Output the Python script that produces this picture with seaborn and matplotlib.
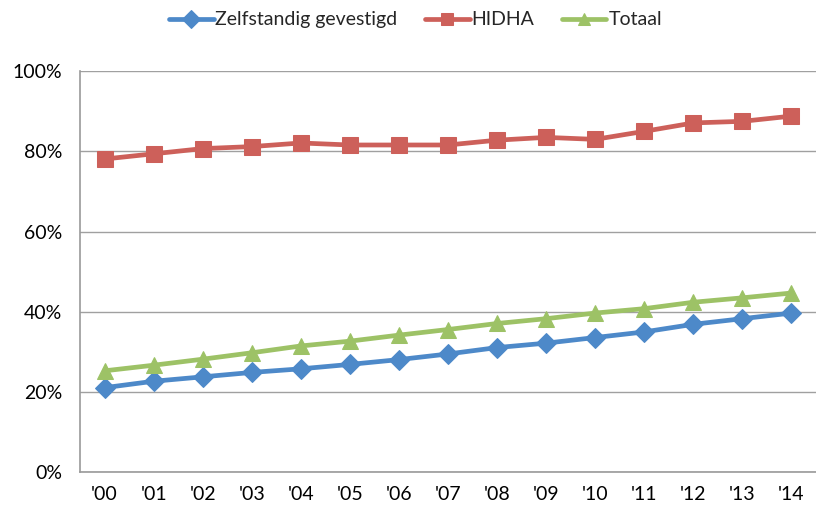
import matplotlib
matplotlib.use("Agg")
import matplotlib.pyplot as plt
import seaborn as sns
import pandas as pd
import numpy as np
from matplotlib.ticker import FixedLocator, PercentFormatter

years = ["'00", "'01", "'02", "'03", "'04", "'05", "'06", "'07", "'08", "'09", "'10", "'11", "'12", "'13", "'14"]
zelfstandig = [21.1, 22.7, 23.8, 24.9, 25.8, 26.9, 28.1, 29.5, 31.1, 32.2, 33.6, 35.0, 36.9, 38.3, 39.7]
hidha = [78.1, 79.4, 80.7, 81.2, 82.1, 81.6, 81.6, 81.6, 82.8, 83.5, 83.0, 85.0, 87.1, 87.5, 88.8]
totaal = [25.3, 26.7, 28.2, 29.8, 31.5, 32.7, 34.2, 35.6, 37.1, 38.3, 39.7, 40.8, 42.4, 43.5, 44.7]
series_names = ["Zelfstandig gevestigd", "HIDHA", "Totaal"]

sns.set_theme(style="white")
plt.rcParams['font.family'] = ['Lato', 'DejaVu Sans']

rows = []
for name, vals in zip(series_names, [zelfstandig, hidha, totaal]):
    for i, v in enumerate(vals):
        rows.append({"pos": i, "value": v, "serie": name})
df = pd.DataFrame(rows)

colors = {"Zelfstandig gevestigd": "#4D89C9", "HIDHA": "#CD605A", "Totaal": "#9DC266"}
markers = {"Zelfstandig gevestigd": "D", "HIDHA": "s", "Totaal": "^"}
msize = {"Zelfstandig gevestigd": 10, "HIDHA": 11.5, "Totaal": 12}

fig = plt.figure(figsize=(8.16, 5.11), dpi=100)
ax = fig.add_axes([0.098, 0.0757, 0.902, 0.785])

for name in series_names:
    sub = df[df["serie"] == name]
    sns.lineplot(data=sub, x="pos", y="value", ax=ax, color=colors[name],
                 marker=markers[name], markersize=msize[name], linewidth=3.4,
                 markeredgecolor=colors[name], label=name, zorder=3, legend=False)

ax.set_xlim(-0.5, 14.5)
ax.set_ylim(0, 100)
ax.set_xlabel("")
ax.set_ylabel("")
ax.set_xticks(range(len(years)))
ax.set_xticklabels(years, fontsize=14)
ax.xaxis.set_minor_locator(FixedLocator(np.arange(-0.5, 15, 1)))
ax.tick_params(axis='x', which='major', length=0, pad=10)
ax.tick_params(axis='x', which='minor', length=6, color="#9a9a9a", width=1, direction='out')
ax.set_yticks([0, 20, 40, 60, 80, 100])
ax.yaxis.set_major_formatter(PercentFormatter(decimals=0))
ax.tick_params(axis='y', which='major', length=7, color="#9a9a9a", width=1, labelsize=14, pad=6, direction='out')
ax.tick_params(axis='both', labelcolor="black")
ax.grid(axis='y', color="#a0a0a0", linewidth=1)
ax.set_axisbelow(True)
for s in ["top", "right"]:
    ax.spines[s].set_visible(False)
for s in ["left", "bottom"]:
    ax.spines[s].set_color("#9a9a9a")
    ax.spines[s].set_linewidth(1.2)

handles = ax.get_lines()[:3]
leg = fig.legend(handles, series_names, loc="center", bbox_to_anchor=(0.509, 0.961), ncol=3,
                 frameon=False, fontsize=14, handlelength=2.3, handletextpad=0.1, columnspacing=1.4)
for h in leg.legend_handles:
    h.set_markersize(9)

fig.savefig("out.png", dpi=100)
